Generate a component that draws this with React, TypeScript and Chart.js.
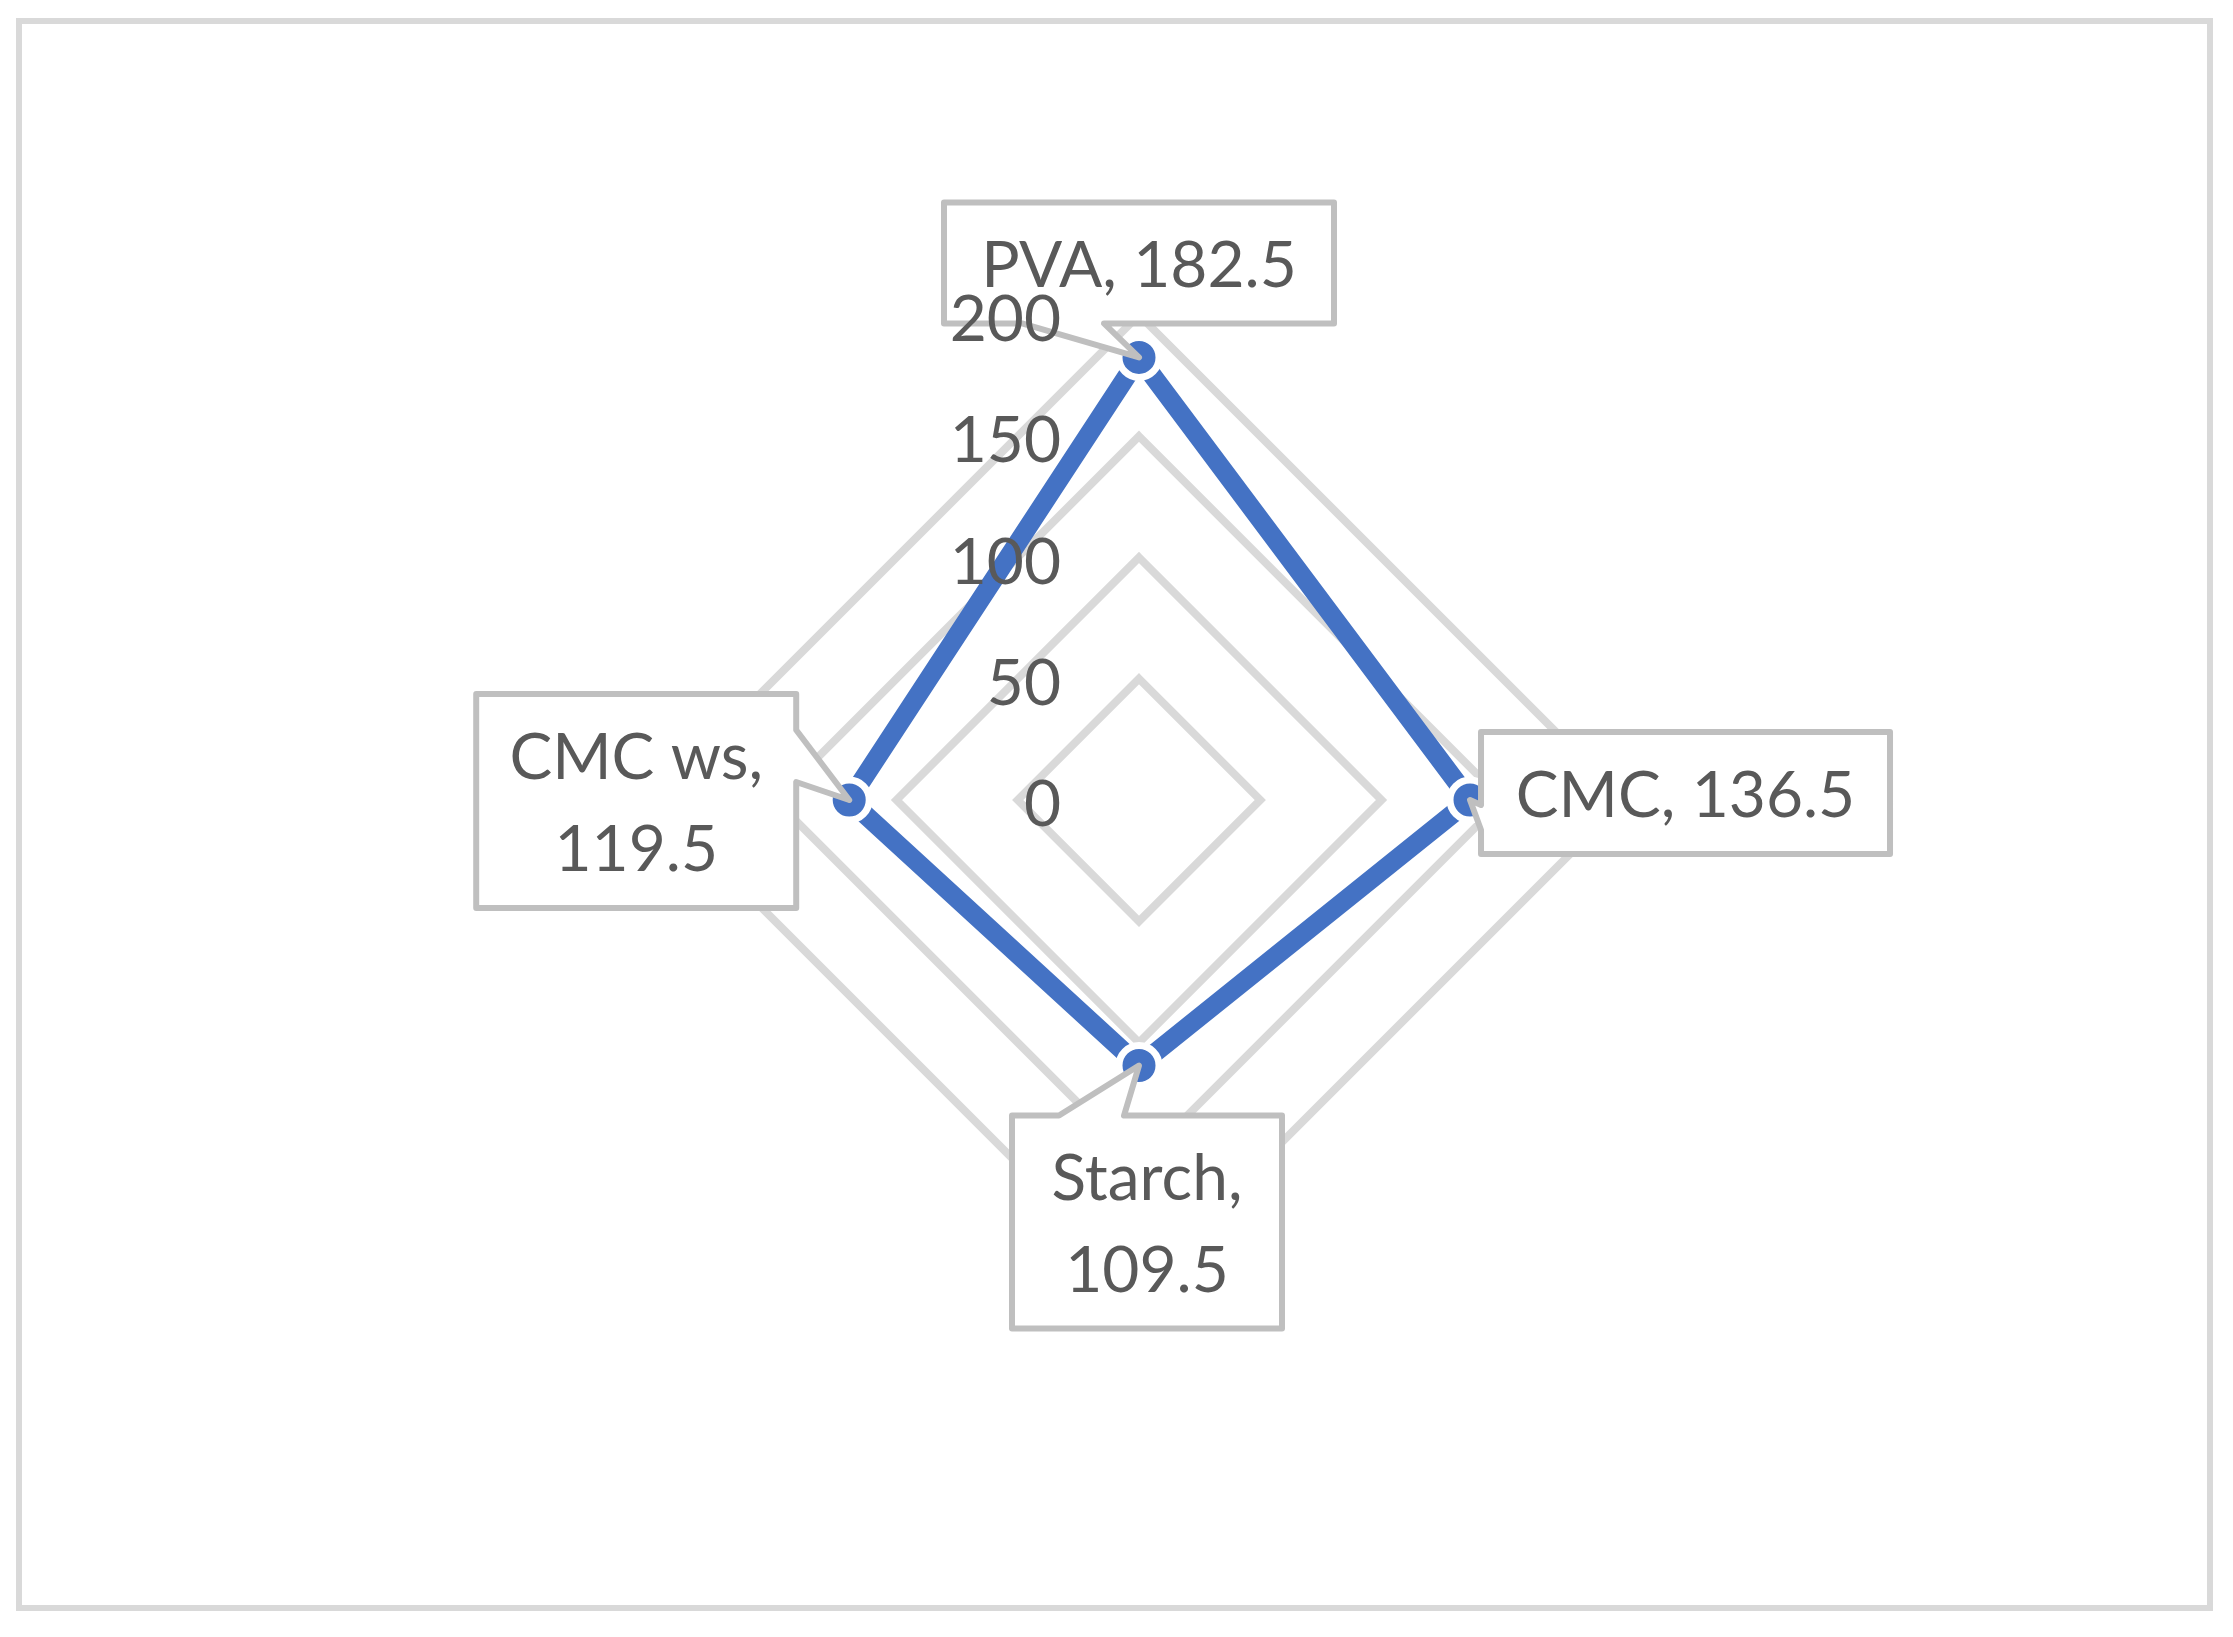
import React, { useEffect, useRef } from "react";
import { Chart, registerables } from "chart.js";

Chart.register(...registerables);

const categories = ["PVA", "CMC", "Starch", "CMC ws"];
const values = [182.5, 136.5, 109.5, 119.5];
const tickValues = [0, 50, 100, 150, 200];
const labelLines = [["PVA, 182.5"], ["CMC, 136.5"], ["Starch,", "109.5"], ["CMC ws,", "119.5"]];

// callout geometry relative to each data point: box [dx1, dy1, dx2, dy2], tail side and base offsets
const callouts = [
  { box: [-195, -155, 195, -34], side: "bottom", base: [-35, -117] },
  { box: [11, -68, 420, 54], side: "left", base: [5, 30] },
  { box: [-127, 50, 143, 263], side: "top", base: [-80, -15] },
  { box: [-373, -106, -53, 108], side: "right", base: [-70, -18] },
];

const FONT = "64px Lato";
const TEXT = "#595959";

const overlay = {
  id: "overlay",
  beforeDraw(chart: any) {
    const ctx = chart.ctx;
    ctx.save();
    ctx.fillStyle = "#ffffff";
    ctx.fillRect(0, 0, chart.width, chart.height);
    ctx.strokeStyle = "#d9d9d9";
    ctx.lineWidth = 6;
    ctx.strokeRect(19, 21, 2191, 1587);
    ctx.restore();
  },
  afterDatasetsDraw(chart: any) {
    const ctx = chart.ctx;
    const meta = chart.getDatasetMeta(0);
    const scale = chart.scales.r;
    ctx.save();
    meta.data.forEach((pt: any, i: number) => {
      const c = callouts[i];
      const x1 = pt.x + c.box[0], y1 = pt.y + c.box[1];
      const x2 = pt.x + c.box[2], y2 = pt.y + c.box[3];
      ctx.beginPath();
      ctx.moveTo(x1, y1);
      if (c.side === "top") {
        ctx.lineTo(pt.x + c.base[0], y1);
        ctx.lineTo(pt.x, pt.y);
        ctx.lineTo(pt.x + c.base[1], y1);
      }
      ctx.lineTo(x2, y1);
      if (c.side === "right") {
        ctx.lineTo(x2, pt.y + c.base[0]);
        ctx.lineTo(pt.x, pt.y);
        ctx.lineTo(x2, pt.y + c.base[1]);
      }
      ctx.lineTo(x2, y2);
      if (c.side === "bottom") {
        ctx.lineTo(pt.x + c.base[0], y2);
        ctx.lineTo(pt.x, pt.y);
        ctx.lineTo(pt.x + c.base[1], y2);
      }
      ctx.lineTo(x1, y2);
      if (c.side === "left") {
        ctx.lineTo(x1, pt.y + c.base[1]);
        ctx.lineTo(pt.x, pt.y);
        ctx.lineTo(x1, pt.y + c.base[0]);
      }
      ctx.closePath();
      ctx.fillStyle = "#ffffff";
      ctx.fill();
      ctx.strokeStyle = "#bfbfbf";
      ctx.lineWidth = 6;
      ctx.lineJoin = "round";
      ctx.stroke();

      const lines = labelLines[i];
      const cx = (x1 + x2) / 2;
      const cy = (y1 + y2) / 2;
      ctx.font = FONT;
      ctx.fillStyle = TEXT;
      ctx.textAlign = "center";
      ctx.textBaseline = "alphabetic";
      const lh = 92;
      lines.forEach((t, j) => {
        const y = cy + (j - (lines.length - 1) / 2) * lh + 24;
        ctx.fillText(t, cx, y);
      });
    });
    ctx.font = FONT;
    ctx.fillStyle = TEXT;
    ctx.textAlign = "right";
    ctx.textBaseline = "alphabetic";
    tickValues.forEach((v) => {
      const d = scale.getDistanceFromCenterForValue(v);
      ctx.fillText(String(v), scale.xCenter - 78, scale.yCenter - d + 26);
    });
    ctx.restore();
  },
};

export default function App() {
  const ref = useRef<HTMLCanvasElement>(null);
  useEffect(() => {
    const chart = new Chart(ref.current as HTMLCanvasElement, {
      type: "radar",
      data: {
        labels: categories,
        datasets: [
          {
            data: values,
            borderColor: "#4472c4",
            borderWidth: 19,
            backgroundColor: "rgba(0,0,0,0)",
            fill: false,
            pointRadius: 20,
            pointBorderWidth: 7,
            pointBackgroundColor: "#4472c4",
            pointBorderColor: "#ffffff",
            pointHoverRadius: 20,
          },
        ],
      },
      options: {
        animation: false,
        responsive: true,
        maintainAspectRatio: false,
        layout: { padding: { left: 654, top: 315, right: 609, bottom: 352 } },
        plugins: { legend: { display: false }, tooltip: { enabled: false } },
        scales: {
          r: {
            min: 0,
            max: 200,
            ticks: { stepSize: 50, display: false },
            grid: { color: "#d9d9d9", lineWidth: 8 },
            angleLines: { display: false },
            pointLabels: { display: false },
          },
        },
      },
      plugins: [overlay],
    });
    return () => chart.destroy();
  }, []);
  return (
    <div style={{ position: "fixed", left: 0, top: 0, width: 2233, height: 1637 }}>
      <canvas ref={ref} />
    </div>
  );
}
